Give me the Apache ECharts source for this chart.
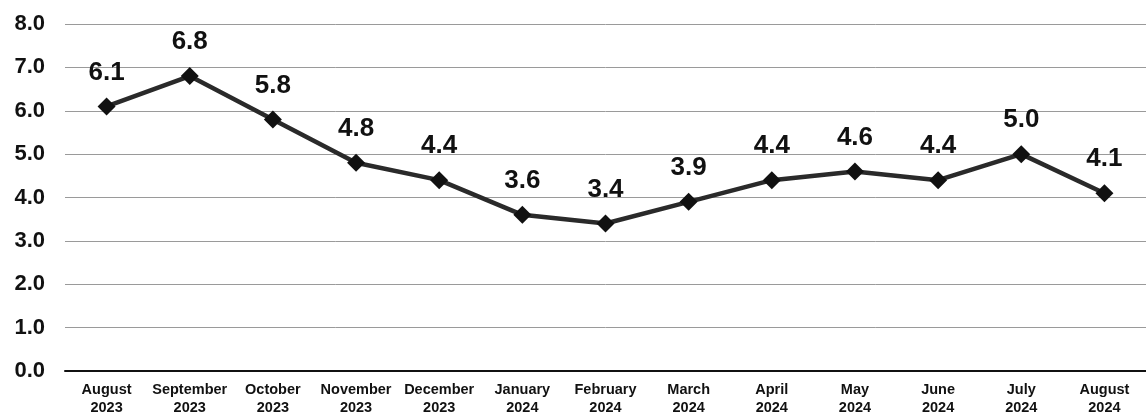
<!DOCTYPE html>
<html>
<head>
<meta charset="utf-8">
<script src="https://cdn.jsdelivr.net/npm/echarts@6/dist/echarts.min.js"></script>
<style>
  html, body { margin: 0; padding: 0; background: #fff; }
  #main { width: 1146px; height: 417px; }
</style>
</head>
<body>
<div id="main"></div>
<script>
// months shown on the x axis (two-line labels)
var months = ['August\n2023', 'September\n2023', 'October\n2023', 'November\n2023', 'December\n2023',
  'January\n2024', 'February\n2024', 'March\n2024', 'April\n2024', 'May\n2024',
  'June\n2024', 'July\n2024', 'August\n2024']
var rates = [6.1, 6.8, 5.8, 4.8, 4.4, 3.6, 3.4, 3.9, 4.4, 4.6, 4.4, 5.0, 4.1]

var myChart = echarts.init(document.getElementById('main'))
var font = 'Liberation Sans, Arial, sans-serif'

var option = {
  animation: false,
  backgroundColor: '#fff',
  grid: { left: 65, top: 24, width: 1094, height: 348 },
  xAxis: {
    type: 'category',
    data: months,
    boundaryGap: true,
    axisLine: { lineStyle: { color: '#111', width: 2 } },
    axisTick: { show: false },
    axisLabel: {
      color: '#111',
      fontFamily: font,
      fontSize: 14.5,
      fontWeight: 'bold',
      lineHeight: 18,
      margin: 10,
      interval: 0
    }
  },
  yAxis: {
    type: 'value',
    min: 0,
    max: 8,
    interval: 1,
    axisLine: { show: false },
    axisTick: { show: false },
    axisLabel: {
      color: '#111',
      fontFamily: font,
      fontSize: 22,
      fontWeight: 'bold',
      margin: 20,
      formatter: function (v) { return v.toFixed(1) }
    },
    splitLine: { lineStyle: { color: '#9a9a9a', width: 1 } }
  },
  series: [
    {
      type: 'line',
      data: rates,
      symbol: 'diamond',
      symbolSize: 18,
      lineStyle: { color: '#2a2a2a', width: 4.5 },
      itemStyle: { color: '#111' },
      label: {
        show: true,
        position: 'top',
        distance: 12,
        color: '#111',
        fontFamily: font,
        fontSize: 26,
        fontWeight: 'bold',
        formatter: function (p) { return p.value.toFixed(1) }
      }
    }
  ]
}

myChart.setOption(option)
</script>
</body>
</html>
